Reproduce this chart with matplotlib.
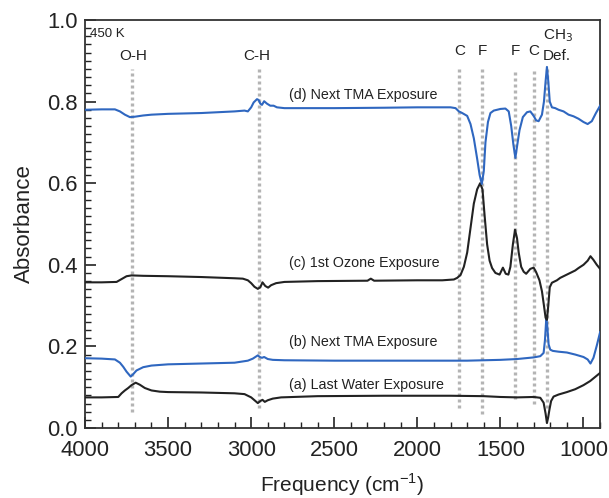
import matplotlib
matplotlib.use("Agg")
import matplotlib.pyplot as plt

plt.rcParams['font.family'] = ['Liberation Sans', 'DejaVu Sans']

# ---------------- data ----------------
wn_d = [4000, 3900, 3820, 3790, 3760, 3730, 3700, 3650, 3600, 3500, 3400, 3300, 3200, 3100,
        3040, 3020, 3000, 2985, 2965, 2955, 2945, 2935, 2922, 2905, 2885, 2865, 2845, 2800,
        2500, 2200, 2000, 1800, 1770, 1750, 1730, 1700, 1680, 1660, 1640, 1625, 1612, 1600,
        1590, 1575, 1560, 1540, 1500, 1470, 1450, 1435, 1422, 1410, 1400, 1385, 1365, 1340,
        1320, 1300, 1285, 1270, 1250, 1238, 1228, 1220, 1212, 1203, 1190, 1170, 1150, 1120,
        1090, 1060, 1030, 1000, 975, 950, 925, 900]
abs_d = [0.780, 0.781, 0.781, 0.776, 0.768, 0.762, 0.763, 0.766, 0.768, 0.770, 0.771, 0.772, 0.774, 0.776,
         0.778, 0.776, 0.786, 0.798, 0.806, 0.804, 0.795, 0.792, 0.801, 0.795, 0.790, 0.790, 0.786, 0.784,
         0.784, 0.785, 0.786, 0.786, 0.784, 0.776, 0.772, 0.765, 0.745, 0.710, 0.660, 0.620, 0.598, 0.630,
         0.700, 0.750, 0.772, 0.778, 0.782, 0.783, 0.776, 0.740, 0.695, 0.662, 0.690, 0.730, 0.762, 0.774,
         0.776, 0.765, 0.754, 0.752, 0.768, 0.800, 0.850, 0.885, 0.850, 0.800, 0.786, 0.784, 0.780, 0.776,
         0.768, 0.764, 0.758, 0.750, 0.745, 0.752, 0.772, 0.790]

wn_c = [4000, 3900, 3810, 3780, 3750, 3720, 3650, 3500, 3300, 3100, 3050, 3020, 3000, 2980, 2960,
        2945, 2932, 2915, 2898, 2880, 2850, 2800, 2600, 2300, 2280, 2260, 2000, 1850, 1780, 1760,
        1740, 1720, 1700, 1680, 1660, 1640, 1622, 1608, 1595, 1580, 1565, 1550, 1530, 1505, 1485,
        1468, 1452, 1440, 1425, 1412, 1400, 1390, 1375, 1360, 1345, 1320, 1300, 1285, 1265, 1250,
        1238, 1228, 1220, 1212, 1203, 1190, 1160, 1140, 1120, 1100, 1080, 1050, 1030, 1000, 975,
        958, 940, 920, 900]
abs_c = [0.357, 0.357, 0.358, 0.365, 0.372, 0.374, 0.373, 0.372, 0.370, 0.367, 0.366, 0.362, 0.355, 0.346, 0.341,
         0.345, 0.357, 0.348, 0.344, 0.350, 0.355, 0.358, 0.360, 0.361, 0.366, 0.361, 0.362, 0.362, 0.364, 0.368,
         0.375, 0.395, 0.430, 0.490, 0.550, 0.585, 0.600, 0.585, 0.520, 0.450, 0.410, 0.392, 0.380, 0.376, 0.393,
         0.378, 0.376, 0.395, 0.450, 0.486, 0.465, 0.430, 0.395, 0.383, 0.378, 0.390, 0.393, 0.382, 0.362, 0.335,
         0.300, 0.270, 0.265, 0.300, 0.345, 0.356, 0.362, 0.368, 0.372, 0.376, 0.380, 0.386, 0.392, 0.400, 0.410,
         0.421, 0.412, 0.400, 0.390]

wn_b = [4000, 3900, 3820, 3790, 3770, 3750, 3725, 3710, 3690, 3650, 3600, 3500, 3300, 3100, 3020,
        2990, 2960, 2948, 2935, 2922, 2900, 2870, 2800, 2500, 2000, 1700, 1500, 1400, 1300, 1260,
        1240, 1232, 1224, 1218, 1210, 1200, 1185, 1150, 1100, 1050, 1000, 975, 958, 940, 920, 900]
abs_b = [0.171, 0.170, 0.168, 0.160, 0.150, 0.138, 0.126, 0.132, 0.141, 0.149, 0.153, 0.156, 0.158, 0.160, 0.165,
         0.170, 0.178, 0.174, 0.172, 0.174, 0.169, 0.167, 0.166, 0.165, 0.165, 0.165, 0.167, 0.169, 0.173, 0.176,
         0.184, 0.215, 0.268, 0.250, 0.205, 0.192, 0.189, 0.187, 0.185, 0.180, 0.174, 0.168, 0.158, 0.172, 0.202, 0.235]

wn_a = [4000, 3900, 3800, 3780, 3760, 3740, 3720, 3695, 3670, 3640, 3600, 3550, 3500, 3300, 3100,
        3040, 3000, 2980, 2960, 2945, 2932, 2918, 2900, 2870, 2820, 2600, 2200, 1800, 1600, 1500,
        1400, 1300, 1260, 1240, 1228, 1220, 1213, 1205, 1195, 1180, 1150, 1100, 1050, 1000, 960,
        930, 900]
abs_a = [0.075, 0.075, 0.076, 0.085, 0.092, 0.098, 0.105, 0.111, 0.106, 0.098, 0.092, 0.089, 0.088, 0.087, 0.085,
         0.083, 0.075, 0.068, 0.061, 0.066, 0.069, 0.064, 0.068, 0.072, 0.075, 0.078, 0.079, 0.079, 0.078, 0.076,
         0.075, 0.076, 0.074, 0.062, 0.035, 0.012, 0.025, 0.045, 0.066, 0.077, 0.082, 0.088, 0.095, 0.105, 0.115,
         0.125, 0.135]

# reference (dotted) lines
ref_pos = [3715, 2955, 1747, 1612, 1410, 1300, 1217]
ref_bottom = [0.04, 0.05, 0.05, 0.035, 0.07, 0.06, 0.05]
ref_top = 0.88

peak_labels = ["O-H", "C-H", "C", "F", "F", "C"]
peak_label_x = [3710, 2965, 1747, 1610, 1410, 1300]
peak_label_y = [0.912, 0.912, 0.924, 0.924, 0.924, 0.924]

curve_labels = ["(d) Next TMA Exposure", "(c) 1st Ozone Exposure",
                "(b) Next TMA Exposure", "(a) Last Water Exposure"]
curve_label_y = [0.817, 0.405, 0.21, 0.105]

blue = '#2f67c0'
black = '#222222'

fig = plt.figure(figsize=(6.09, 4.98), dpi=100)
ax = fig.add_axes([0.1396, 0.1406, 0.8458, 0.8192])

for x, b in zip(ref_pos, ref_bottom):
    ax.plot([x, x], [b, ref_top], color='#b4b4b4', lw=2.4,
            linestyle=(0, (0.9, 0.9)), zorder=1, solid_capstyle='butt', dash_capstyle='butt')

ax.plot(wn_a, abs_a, color=black, lw=1.5, zorder=3)
ax.plot(wn_b, abs_b, color=blue, lw=1.5, zorder=3)
ax.plot(wn_c, abs_c, color=black, lw=1.5, zorder=3)
ax.plot(wn_d, abs_d, color=blue, lw=1.5, zorder=3)

for t, x, y in zip(peak_labels, peak_label_x, peak_label_y):
    ax.text(x, y, t, ha='center', va='center', fontsize=11, color='#222222')
ax.text(1155, 0.962, r'CH$_3$', ha='center', va='center', fontsize=11, color='#222222')
ax.text(1160, 0.913, 'Def.', ha='center', va='center', fontsize=11, color='#222222')
ax.text(3972, 0.966, '450 K', ha='left', va='center', fontsize=9.5, color='#222222')

for t, y in zip(curve_labels, curve_label_y):
    ax.text(2772, y, t, ha='left', va='center', fontsize=10.3, color='#222222')

ax.set_xlim(4000, 900)
ax.set_ylim(0, 1.0)
ax.set_xticks([4000, 3500, 3000, 2500, 2000, 1500, 1000])
ax.set_xticks(list(range(3900, 899, -100)), minor=True)
ax.set_yticks([0.0, 0.2, 0.4, 0.6, 0.8, 1.0])
ax.set_yticks([i * 0.02 for i in range(51)], minor=True)
ax.yaxis.set_major_formatter(matplotlib.ticker.FormatStrFormatter('%.1f'))

ax.tick_params(axis='both', which='major', direction='in', length=8, width=1.2,
               labelsize=15.8, colors='#222222', top=False, right=False)
ax.tick_params(axis='both', which='minor', direction='in', length=4.5, width=1.0,
               colors='#222222', top=False, right=False)
ax.tick_params(axis='x', pad=9)
ax.tick_params(axis='y', pad=5)
for s in ax.spines.values():
    s.set_linewidth(1.3)
    s.set_color('#333333')

ax.set_ylabel('Absorbance', fontsize=16, color='#222222')
ax.set_xlabel(r'Frequency (cm$^{\mathregular{-1}}$)', fontsize=15, color='#222222')
ax.yaxis.set_label_coords(-0.098, 0.5)
ax.xaxis.set_label_coords(0.5, -0.106)

fig.savefig('out.png', dpi=100)
